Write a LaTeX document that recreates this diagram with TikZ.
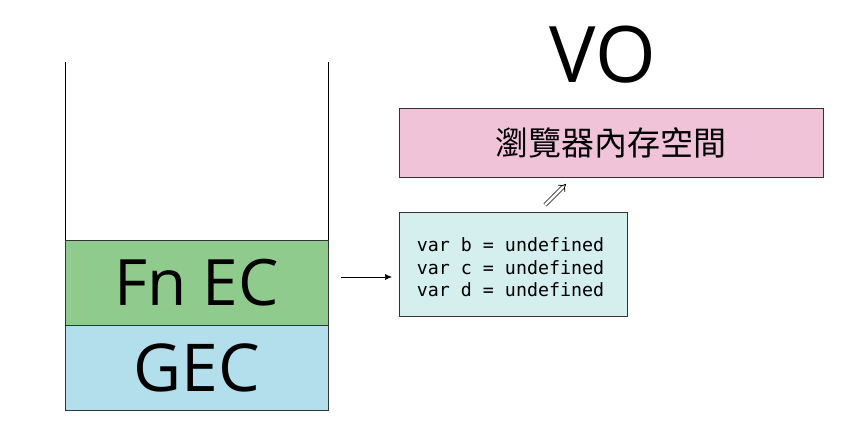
\documentclass[tikz,border=0pt]{standalone}
\usepackage{fontspec}
\setmainfont{Open Sans}
\setmonofont{DejaVu Sans Mono}
\newfontfamily\cjkfont{Noto Sans CJK TC}
\usetikzlibrary{arrows.meta}

\definecolor{fngreen}{HTML}{90CB8E}
\definecolor{gecblue}{HTML}{B3DFEC}
\definecolor{varcyan}{HTML}{D5EEEE}
\definecolor{mempink}{HTML}{F0C3D9}

\tikzset{
  frame/.style={draw=black!80,line width=0.9pt,inner sep=0pt,outer sep=0pt},
  stackbox/.style={frame,minimum width=263pt,minimum height=85pt},
}

\begin{document}
\begin{tikzpicture}[x=1pt,y=-1pt]
  \useasboundingbox (0,0) rectangle (842,436);

  %stack
  \node[stackbox,fill=gecblue,font=\fontsize{66}{70}\selectfont] (gec) at (196.5,367.5) {GEC};
  \node[stackbox,fill=fngreen,font=\fontsize{64}{70}\selectfont] (fnec) at (196.5,282.5) {Fn EC};
  \coordinate (lefttop) at (65,62);
  \coordinate (righttop) at (328,62);
  \draw[line width=0.9pt] (fnec.north west) -- (lefttop);
  \draw[line width=0.9pt] (fnec.north east) -- (righttop);

  %memory
  \node[font=\fontsize{78}{80}\selectfont] (vo) at (603,55) {VO};
  \node[frame,fill=mempink,minimum width=424pt,minimum height=69pt,
    font=\cjkfont\fontsize{33}{36}\selectfont] (mem) at (611,142.5) {瀏覽器內存空間};
  \node[frame,fill=varcyan,minimum width=228pt,minimum height=104pt] (vars) at (513,264) {};
  \node[align=left,inner sep=0pt,font=\ttfamily\fontsize{18.3}{22.5}\selectfont]
    (varlist) at (510.5,267.5) {var b = undefined\\var c = undefined\\var d = undefined};

  %arrows
  \path (fnec.east) ++(13,-5.5) coordinate (callfrom);
  \draw[-{Latex[length=7pt,width=6pt]},line width=0.6pt] (callfrom) -- ([xshift=-7pt]vars.west |- callfrom);
  \coordinate (upfrom) at (545,205);
  \coordinate (upto) at (566,184);
  \draw[double,double distance=2.6pt,line width=0.8pt,-{Implies[length=5pt]}] (upfrom) -- (upto);
\end{tikzpicture}
\end{document}
